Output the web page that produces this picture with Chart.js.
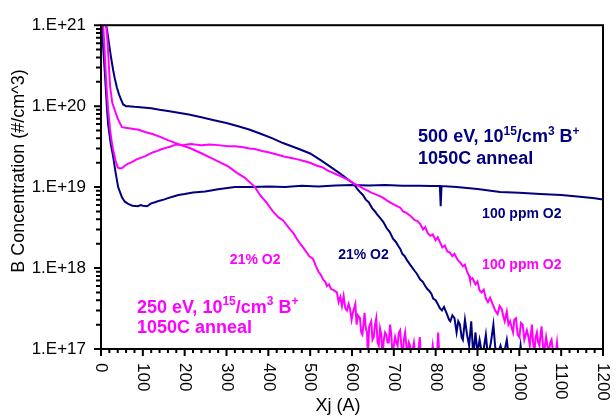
<!DOCTYPE html>
<html><head><meta charset="utf-8">
<script src="https://cdn.jsdelivr.net/npm/chart.js@4/dist/chart.umd.min.js"></script>
<style>html,body{margin:0;padding:0;background:#fff}#wrap{width:616px;height:417px;position:relative}</style>
</head><body><div id="wrap"><canvas id="c"></canvas></div>
<script>
const xTickLabels = ['0','100','200','300','400','500','600','700','800','900','1000','1100','1200'];
const yTickValues = [1e17, 1e18, 1e19, 1e20, 1e21];
const yTickLabels = ['1.E+17', '1.E+18', '1.E+19', '1.E+20', '1.E+21'];
const seriesNames = ['500 eV 21% O2', '500 eV 100 ppm O2', '250 eV 21% O2', '250 eV 100 ppm O2'];

const navy21 = [[8,1.3e21],[14,9e20],[19,6e20],[24,4e20],[29,2.8e20],[33,2.2e20],[38,1.7e20],[43,1.4e20],[48,1.2e20],[53,1.05e20],[60,1.0e20],[65,1.0e20],[80,9.8e19],[100,9.6e19],[120,9.4e19],[140,9.0e19],[160,8.7e19],[185,8.3e19],[210,7.9e19],[240,7.3e19],[270,6.7e19],[300,6.2e19],[330,5.6e19],[356,5.1e19],[380,4.6e19],[410,4.0e19],[435,3.5e19],[470,3.0e19],[500,2.6e19],[525,2.15e19],[547,1.8e19],[565,1.55e19],[579,1.38e19],[592,1.22e19],[603,1.12e19],[612,9.6e18],[619,8.7e18],[626,8.0e18],[633,7.0e18],[640,6.5e18],[648,5.5e18],[655,5.0e18],[660,4.6e18],[668,4.1e18],[675,3.7e18],[683,3.1e18],[690,2.8e18],[698,2.3e18],[705,2.1e18],[710,1.9e18],[716,1.7e18],[720,1.5e18],[726,1.4e18],[731,1.26e18],[738,1.12e18],[745,1.0e18],[750,9.2e17],[755,8.5e17],[763,7.2e17],[769,6.8e17],[775,6.0e17],[780,5.5e17],[785,5.2e17],[790,4.8e17],[794,4.2e17],[800,4.0e17],[805,3.6e17],[810,3.2e17],[815,3.0e17],[820,3.3e17],[827,2.7e17],[832,2.3e17],[835,2.2e17],[840,2.6e17],[845,2.4e17],[850,1.6e17],[854,2.2e17],[858,2.0e17],[862,1.4e17],[865,1.3e17],[870,2.3e17],[875,1.5e17],[880,1.1e17],[885,2.2e17],[890,8e16],[895,1.6e17],[900,9e16],[905,1.3e17],[912,8e16],[920,1.5e17],[925,8e16],[932,1.2e17],[938,2.0e17],[942,1.1e17],[946,8e16],[955,1.1e17],[962,8e16],[970,1.3e17],[975,8e16],[1000,8e16],[1003,1.1e17],[1006,8e16],[1100,8e16]];

const navy100 = [[2,1.3e21],[5,5.5e20],[10,2.2e20],[14,1.0e20],[17,6e19],[23,3.5e19],[29,2.4e19],[35,1.5e19],[41,1.0e19],[50,7.5e18],[57,6.6e18],[65,6.2e18],[75,5.9e18],[88,5.8e18],[95,6.0e18],[100,5.9e18],[110,5.8e18],[120,6.3e18],[129,6.5e18],[140,6.8e18],[150,7.0e18],[160,7.3e18],[175,7.7e18],[185,8.0e18],[200,8.2e18],[220,8.6e18],[249,8.8e18],[280,9.4e18],[320,1.0e19],[361,1.0e19],[400,1.02e19],[440,1.0e19],[480,1.04e19],[520,1.02e19],[560,1.05e19],[600,1.06e19],[640,1.05e19],[680,1.06e19],[720,1.04e19],[760,1.04e19],[790,1.03e19],[810,1.03e19],[812,5.8e18],[814,1.03e19],[850,1.0e19],[900,9.5e18],[954,8.7e18],[1000,8.5e18],[1050,8.2e18],[1100,8.0e18],[1145,7.6e18],[1180,7.3e18],[1200,7.0e18]];

const magenta21 = [[10,1.3e21],[13,9e20],[16,6e20],[19,3e20],[22,1.7e20],[27,1.1e20],[33,8.9e19],[40,7e19],[50,5.5e19],[70,5.3e19],[90,5.1e19],[105,4.8e19],[125,4.5e19],[140,4.2e19],[160,3.8e19],[185,3.4e19],[215,3.0e19],[241,2.6e19],[270,2.2e19],[304,1.8e19],[325,1.5e19],[344,1.3e19],[368,1.0e19],[380,8e18],[395,6.5e18],[411,5e18],[425,4.2e18],[435,3.9e18],[444,3.4e18],[452,3.0e18],[460,2.7e18],[468,2.3e18],[476,2.0e18],[483,1.8e18],[490,1.6e18],[498,1.4e18],[507,1.3e18],[514,1.05e18],[520,9e17],[526,8.2e17],[531,7.2e17],[536,6.8e17],[540,6.0e17],[545,6.3e17],[550,5.5e17],[557,5.3e17],[564,5.0e17],[568,3.8e17],[572,4.4e17],[576,3.4e17],[580,4.5e17],[584,3.2e17],[588,3.0e17],[592,3.6e17],[595,3.2e17],[599,2.3e17],[602,2.8e17],[608,3.6e17],[611,2.0e17],[614,2.6e17],[619,2.4e17],[622,1.6e17],[625,1.5e17],[630,2.8e17],[633,1.8e17],[636,1.6e17],[638,8e16],[641,1.9e17],[646,2.2e17],[649,1.3e17],[652,1.4e17],[655,2.0e17],[658,2.4e17],[661,1.2e17],[664,1.1e17],[667,1.8e17],[670,1.5e17],[673,8e16],[676,1.3e17],[679,1.6e17],[682,1.5e17],[685,1.2e17],[688,1.2e17],[691,2.0e17],[694,1.5e17],[697,8e16],[700,1.1e17],[703,1.4e17],[706,1.2e17],[709,1.1e17],[712,1.6e17],[715,1.7e17],[718,1.1e17],[721,8e16],[724,1.3e17],[727,1.6e17],[730,1.1e17],[733,8e16],[736,1.2e17],[739,1.1e17],[742,8e16],[748,1.2e17],[752,8e16],[757,8e16],[762,1.4e17],[765,8e16],[790,8e16],[793,1.1e17],[796,8e16],[803,8e16],[806,1.6e17],[809,8e16]];

const magenta100 = [[4,1.3e21],[7,7e20],[10,3.5e20],[13,1.8e20],[17,9e19],[22,5e19],[26,3.5e19],[29,2.9e19],[35,2.1e19],[40,1.75e19],[45,1.7e19],[50,1.72e19],[58,1.85e19],[65,1.95e19],[75,2.05e19],[85,2.2e19],[95,2.3e19],[105,2.4e19],[115,2.55e19],[125,2.7e19],[135,2.8e19],[146,2.95e19],[155,3.05e19],[165,3.15e19],[175,3.3e19],[185,3.35e19],[195,3.3e19],[205,3.35e19],[215,3.4e19],[225,3.35e19],[240,3.3e19],[260,3.35e19],[280,3.3e19],[304,3.2e19],[320,3.2e19],[340,3.1e19],[355,3.0e19],[368,2.95e19],[385,2.8e19],[400,2.7e19],[418,2.55e19],[435,2.4e19],[452,2.3e19],[470,2.2e19],[485,2.1e19],[500,2.0e19],[515,1.85e19],[530,1.75e19],[542,1.6e19],[555,1.5e19],[565,1.42e19],[575,1.35e19],[585,1.27e19],[595,1.2e19],[605,1.1e19],[615,1.05e19],[625,9.7e18],[636,9.1e18],[645,8.6e18],[655,8.2e18],[665,7.8e18],[674,7.4e18],[684,6.8e18],[695,6.3e18],[705,5.9e18],[715,5.6e18],[722,5.0e18],[730,4.8e18],[740,4.4e18],[750,3.9e18],[757,3.8e18],[763,3.5e18],[770,3.0e18],[775,3.2e18],[781,2.7e18],[787,2.5e18],[793,2.6e18],[800,2.2e18],[805,2.4e18],[810,2.1e18],[816,1.8e18],[822,1.9e18],[828,1.6e18],[834,1.55e18],[840,1.4e18],[845,1.5e18],[851,1.3e18],[856,1.2e18],[860,1.15e18],[865,1.05e18],[870,1.1e18],[875,9.0e17],[880,8e17],[882,7.2e17],[888,7.5e17],[895,6.3e17],[900,6.8e17],[905,5.3e17],[910,5.0e17],[915,5.4e17],[920,4.2e17],[925,3.8e17],[930,4.3e17],[937,3.5e17],[942,3.0e17],[948,2.7e17],[953,3.4e17],[958,3.1e17],[962,2.5e17],[965,2.2e17],[970,2.9e17],[974,2.0e17],[978,2.2e17],[982,1.8e17],[985,1.6e17],[988,2.3e17],[992,2.4e17],[996,1.5e17],[1000,1.4e17],[1004,2.1e17],[1008,2.0e17],[1012,1.3e17],[1018,1.7e17],[1022,1.4e17],[1025,1.1e17],[1030,2.0e17],[1033,1.2e17],[1036,9e16],[1039,1.4e17],[1042,1.6e17],[1045,1.2e17],[1048,1.1e17],[1053,1.9e17],[1056,1.2e17],[1058,8e16],[1064,1.4e17],[1067,1.1e17],[1070,9e16],[1074,1.2e17],[1077,1.3e17],[1082,8e16],[1086,8e16],[1090,1.2e17],[1093,8e16],[1100,8e16]];

const NAVY = '#000080', MAG = '#ff00ff';
const FONT = '"Liberation Sans", Arial, Helvetica, sans-serif';

// text annotations anchored in data coordinates (left edge, baseline)
const notes = [
  {x: 758, y: 3.6e19, color: NAVY, size: 18, parts: [['500 eV, 10'], ['15', 1], ['/cm'], ['3', 1], [' B'], ['+', 1]]},
  {x: 758, y: 1.91e19, color: NAVY, size: 18, parts: [['1050C anneal']]},
  {x: 86, y: 2.81e17, color: MAG, size: 18, parts: [['250 eV, 10'], ['15', 1], ['/cm'], ['3', 1], [' B'], ['+', 1]]},
  {x: 86, y: 1.58e17, color: MAG, size: 18, parts: [['1050C anneal']]},
  {x: 911, y: 4.14e18, color: NAVY, size: 14, parts: [['100 ppm O2']]},
  {x: 911, y: 9.86e17, color: MAG, size: 14, parts: [['100 ppm O2']]},
  {x: 567, y: 1.3e18, color: NAVY, size: 14, parts: [['21% O2']]},
  {x: 308, y: 1.13e18, color: MAG, size: 14, parts: [['21% O2']]}
];

const toPts = arr => arr.map(p => ({x: p[0], y: p[1]}));

const deco = {
  id: 'deco',
  afterDatasetsDraw(chart) {
    const ctx = chart.ctx, a = chart.chartArea, xs = chart.scales.x, ys = chart.scales.y;
    ctx.save();
    // frame
    ctx.strokeStyle = '#000';
    ctx.lineWidth = 2;
    ctx.strokeRect(a.left, a.top, a.right - a.left, a.bottom - a.top);
    // tick marks
    ctx.beginPath();
    for (let v = 0; v <= 1200; v += 20) {
      const px = xs.getPixelForValue(v);
      const len = (v % 100 === 0) ? 7 : 4;
      ctx.moveTo(px, a.bottom);
      ctx.lineTo(px, a.bottom + len);
    }
    for (let e = 17; e <= 21; e++) {
      for (let m = 1; m <= 9; m++) {
        if (e === 21 && m > 1) break;
        const py = ys.getPixelForValue(m * Math.pow(10, e));
        const len = m === 1 ? 7 : 5;
        ctx.moveTo(a.left, py);
        ctx.lineTo(a.left - len, py);
      }
    }
    ctx.stroke();
    // x tick labels, rotated to read top to bottom
    ctx.fillStyle = '#000';
    ctx.font = '17px ' + FONT;
    ctx.textAlign = 'left';
    ctx.textBaseline = 'middle';
    xTickLabels.forEach(l => {
      const px = xs.getPixelForValue(Number(l));
      ctx.save();
      ctx.translate(px, a.bottom + 14);
      ctx.rotate(Math.PI / 2);
      ctx.fillText(l, 0, 0);
      ctx.restore();
    });
    // axis titles
    ctx.font = '18px ' + FONT;
    ctx.textAlign = 'center';
    ctx.fillText('Xj (A)', 338, 406);
    ctx.save();
    ctx.translate(19, 171);
    ctx.rotate(-Math.PI / 2);
    ctx.fillText('B Concentration (#/cm^3)', 0, 0);
    ctx.restore();
    // annotations
    ctx.textAlign = 'left';
    ctx.textBaseline = 'alphabetic';
    notes.forEach(n => {
      let px = xs.getPixelForValue(n.x);
      const py = ys.getPixelForValue(n.y);
      ctx.fillStyle = n.color;
      n.parts.forEach(p => {
        const sup = p[1] === 1;
        const fs = sup ? Math.round(n.size * 0.65) : n.size;
        ctx.font = 'bold ' + fs + 'px ' + FONT;
        ctx.fillText(p[0], px, sup ? py - n.size * 0.42 : py);
        px += ctx.measureText(p[0]).width;
      });
    });
    ctx.restore();
  }
};

const mk = (label, data, color) => ({
  label, data: toPts(data), borderColor: color, backgroundColor: color,
  borderWidth: 2, pointRadius: 0, tension: 0, fill: false, clip: 0
});

new Chart(document.getElementById('c'), {
  type: 'line',
  data: {
    datasets: [
      mk(seriesNames[3], magenta100, MAG),
      mk(seriesNames[2], magenta21, MAG),
      mk(seriesNames[1], navy100, NAVY),
      mk(seriesNames[0], navy21, NAVY)
    ]
  },
  options: {
    responsive: true,
    maintainAspectRatio: false,
    animation: false,
    layout: {padding: {top: 15, right: 13, left: 0, bottom: 0}},
    plugins: {legend: {display: false}, tooltip: {enabled: false}},
    scales: {
      x: {
        type: 'linear', min: 0, max: 1200,
        grid: {display: false, drawTicks: false},
        border: {display: false},
        ticks: {display: false},
        afterFit: s => { s.height = 68; }
      },
      y: {
        type: 'logarithmic', min: 1e17, max: 1e21,
        grid: {display: false, drawTicks: false},
        border: {display: false},
        afterBuildTicks: s => { s.ticks = yTickValues.map(v => ({value: v})); },
        ticks: {
          autoSkip: false, padding: 15, color: '#000',
          font: {size: 17, family: FONT},
          callback: (v, i) => yTickLabels[i]
        },
        afterFit: s => { s.width = 101; }
      }
    }
  },
  plugins: [deco]
});
</script>
</body></html>
